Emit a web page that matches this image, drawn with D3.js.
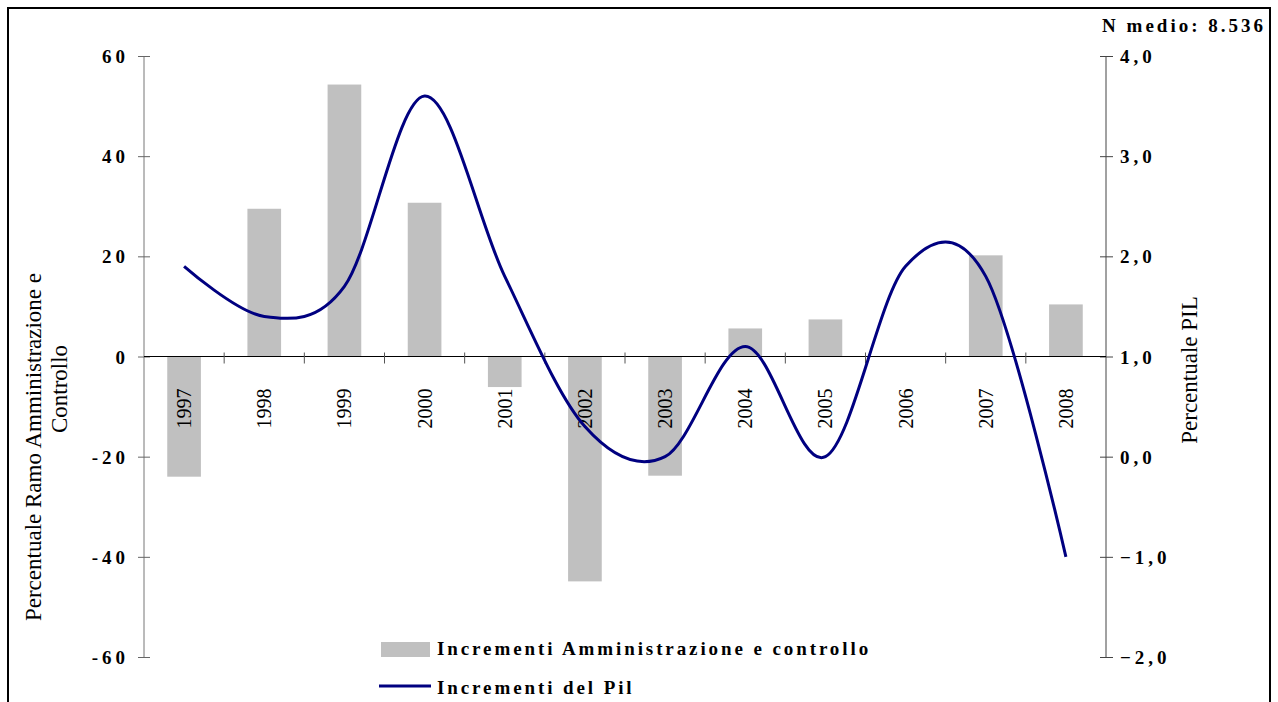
<!DOCTYPE html>
<html><head><meta charset="utf-8">
<script src="https://cdn.jsdelivr.net/npm/d3@7"></script>
<style>
html,body{margin:0;padding:0;background:#fff;}
svg{display:block;}
</style></head>
<body>
<svg id="chart" width="1278" height="702"></svg>
<script>
const years = ['1997','1998','1999','2000','2001','2002','2003','2004','2005','2006','2007','2008'];
const increments = [-24.0, 29.5, 54.3, 30.7, -6.1, -44.9, -23.8, 5.6, 7.4, 0, 20.2, 10.4];
const pil = [1.9, 1.4, 1.7, 3.6, 1.8, 0.3, 0.0, 1.1, 0.0, 1.9, 1.8, -1.0];
const leftTicks = [-60, -40, -20, 0, 20, 40, 60];
const rightTicks = [-2, -1, 0, 1, 2, 3, 4];
const legendLabels = ['Incrementi Amministrazione e controllo', 'Incrementi del Pil'];
const leftTitle = ['Percentuale Ramo Amministrazione e', 'Controllo'];
const rightTitle = 'Percentuale PIL';
const noteText = 'N medio: 8.536';

const svg = d3.select('#chart');
const serif = '"Liberation Serif", "Times New Roman", serif';
const L = 144, R = 1106, T = 56, B = 657;

const x = d3.scaleBand().domain(years).range([L, R]).paddingInner(0.58).paddingOuter(0.29);
const xb = d3.scaleBand().domain(years).range([L, R]);
const yL = d3.scaleLinear().domain([-60, 60]).range([B, T]);
const yR = d3.scaleLinear().domain([-2, 4]).range([B, T]);

// frame
svg.append('rect').attr('x', 8).attr('y', 8).attr('width', 1262).attr('height', 720)
  .attr('fill', 'none').attr('stroke', '#000').attr('stroke-width', 2);

// bars
svg.append('g').selectAll('rect').data(years).join('rect')
  .attr('x', d => x(d))
  .attr('width', x.bandwidth())
  .attr('y', (d, i) => yL(Math.max(0, increments[i])))
  .attr('height', (d, i) => Math.abs(yL(increments[i]) - yL(0)))
  .attr('fill', '#c0c0c0');

// left axis
const gl = svg.append('g').attr('transform', `translate(${L},0)`)
  .call(d3.axisLeft(yL).tickValues(leftTicks).tickSize(6).tickFormat(d => d));
gl.selectAll('.tick line').attr('x1', 6).attr('x2', -6).attr('stroke', '#666');
gl.select('.domain').attr('stroke', '#777').attr('d', `M0,${T}V${B}`);
gl.selectAll('.tick text').attr('x', -15).attr('dy', '0.35em')
  .attr('font-family', serif).attr('font-size', 19).attr('font-weight', 'bold')
  .attr('letter-spacing', 4).attr('fill', '#000');

// right axis
const gr = svg.append('g').attr('transform', `translate(${R},0)`)
  .call(d3.axisRight(yR).tickValues(rightTicks).tickSize(6)
    .tickFormat(d => d3.format('.1f')(d).replace('.', ',')));
gr.selectAll('.tick line').attr('x1', -6).attr('x2', 7).attr('stroke', '#444');
gr.select('.domain').attr('stroke', '#444').attr('d', `M0,${T}V${B}`);
gr.selectAll('.tick text').attr('x', 14).attr('dy', '0.35em')
  .attr('font-family', serif).attr('font-size', 19).attr('font-weight', 'bold')
  .attr('letter-spacing', 4).attr('fill', '#000');

// x axis at zero
const gx = svg.append('g').attr('transform', `translate(0,${yL(0)})`);
gx.append('line').attr('x1', L).attr('x2', R).attr('stroke', '#000').attr('stroke-width', 1.2);
gx.selectAll('line.tk').data(years.slice(1)).join('line').attr('class', 'tk')
  .attr('x1', d => xb(d)).attr('x2', d => xb(d)).attr('y1', -4).attr('y2', 7)
  .attr('stroke', '#555');
gx.selectAll('text').data(years).join('text')
  .attr('transform', d => `translate(${xb(d) + xb.bandwidth() / 2 + 7},52) rotate(-90)`)
  .attr('text-anchor', 'middle')
  .attr('font-family', serif).attr('font-size', 20).attr('fill', '#000')
  .text(d => d);

// line
const line = d3.line()
  .x((d, i) => xb(years[i]) + xb.bandwidth() / 2)
  .y(d => yR(d))
  .curve(d3.curveCatmullRom.alpha(0));
svg.append('path').datum(pil).attr('d', line)
  .attr('fill', 'none').attr('stroke', '#000080').attr('stroke-width', 3)
  .attr('stroke-linejoin', 'round');

// axis titles
svg.append('text').attr('transform', 'translate(41,447) rotate(-90)')
  .attr('text-anchor', 'middle').attr('font-family', serif).attr('font-size', 23)
  .text(leftTitle[0]);
svg.append('text').attr('transform', 'translate(67,389) rotate(-90)')
  .attr('text-anchor', 'middle').attr('font-family', serif).attr('font-size', 23)
  .text(leftTitle[1]);
svg.append('text').attr('transform', 'translate(1197,370) rotate(-90)')
  .attr('text-anchor', 'middle').attr('font-family', serif).attr('font-size', 23)
  .text(rightTitle);

// note
svg.append('text').attr('x', 1266).attr('y', 32).attr('text-anchor', 'end')
  .attr('font-family', serif).attr('font-size', 19).attr('font-weight', 'bold')
  .attr('letter-spacing', 3).text(noteText);

// legend
const lg = svg.append('g');
lg.append('rect').attr('x', 381).attr('y', 642).attr('width', 49).attr('height', 15).attr('fill', '#c0c0c0');
lg.append('line').attr('x1', 379).attr('x2', 431).attr('y1', 686).attr('y2', 686)
  .attr('stroke', '#000080').attr('stroke-width', 3);
lg.selectAll('text').data(legendLabels).join('text')
  .attr('x', 437).attr('y', (d, i) => 655 + i * 39)
  .attr('font-family', serif).attr('font-size', 19).attr('font-weight', 'bold')
  .attr('letter-spacing', 2.9).text(d => d);
</script>
</body></html>
